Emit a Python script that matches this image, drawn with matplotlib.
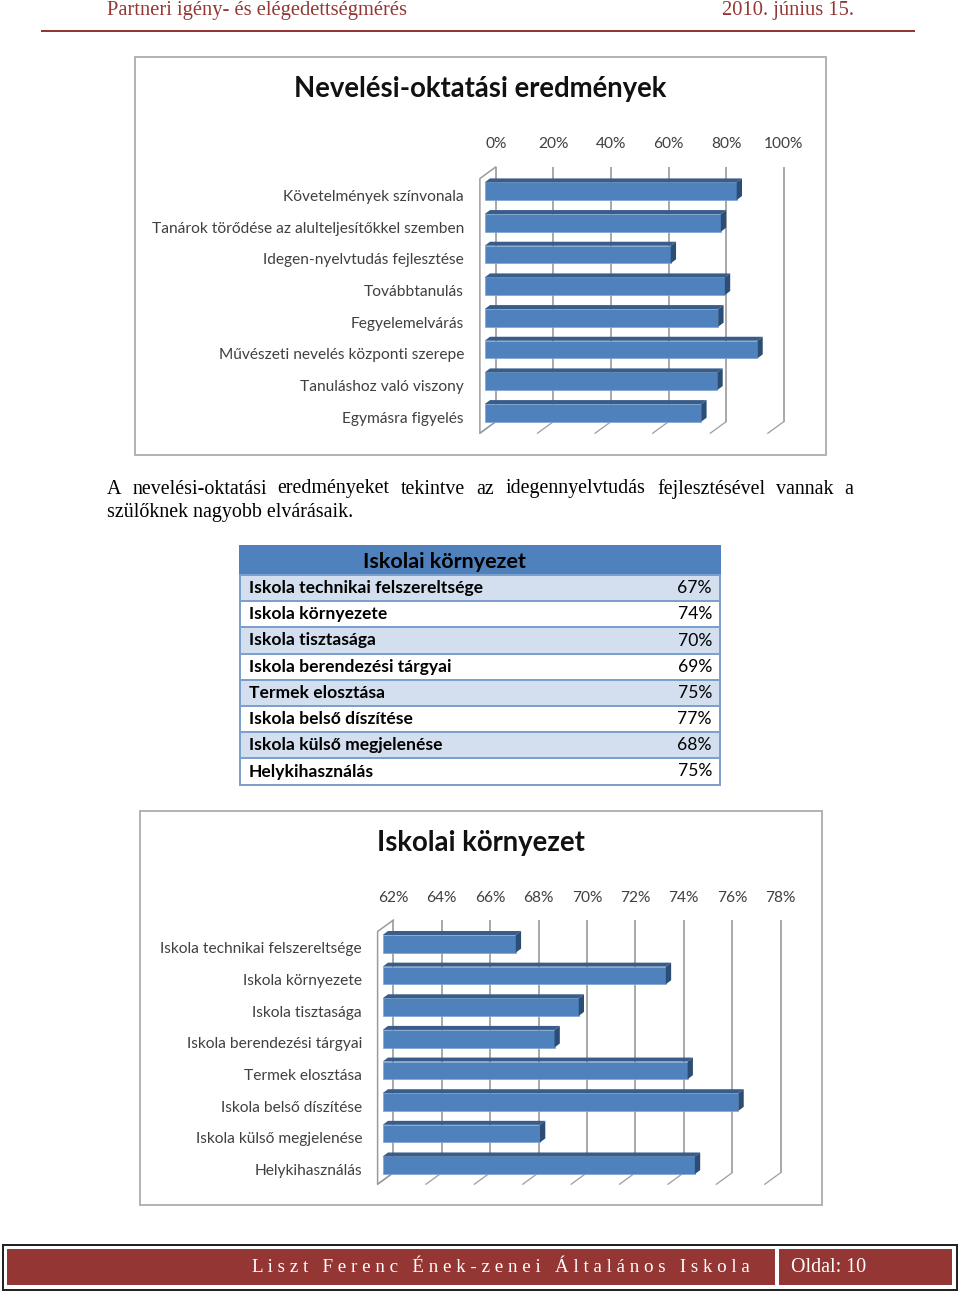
import numpy as np
import matplotlib
matplotlib.use("Agg")
import matplotlib.pyplot as plt
from matplotlib.patches import Rectangle, Polygon

header_left = "Partneri igény- és elégedettségmérés"
header_right = "2010. június 15."
chart1_title = "Nevelési-oktatási eredmények"
chart1_categories = ["Követelmények színvonala", "Tanárok törődése az alulteljesítőkkel szemben",
                     "Idegen-nyelvtudás fejlesztése", "Továbbtanulás", "Fegyelemelvárás",
                     "Művészeti nevelés központi szerepe", "Tanuláshoz való viszony", "Egymásra figyelés"]
chart1_values = [87.5, 82.0, 64.6, 83.4, 81.1, 94.7, 80.8, 75.2]
chart1_ticks = [0, 20, 40, 60, 80, 100]
para_line1 = ["A", "nevelési-oktatási", "eredményeket", "tekintve", "az", "idegennyelvtudás",
              "fejlesztésével", "vannak", "a"]
para_line2 = "szülőknek nagyobb elvárásaik."
table_title = "Iskolai környezet"
table_categories = ["Iskola technikai felszereltsége", "Iskola környezete", "Iskola tisztasága",
                    "Iskola berendezési tárgyai", "Termek elosztása", "Iskola belső díszítése",
                    "Iskola külső megjelenése", "Helykihasználás"]
table_values = [67, 74, 70, 69, 75, 77, 68, 75]
chart2_values = [67.5, 73.7, 70.1, 69.1, 74.6, 76.7, 68.5, 74.9]
chart2_ticks = [62, 64, 66, 68, 70, 72, 74, 76, 78]
footer_text = "L i s z t   F e r e n c   É n e k - z e n e i   Á l t a l á n o s   I s k o l a"
footer_page = "Oldal: 10"

W, H = 960, 1292
PX = 0.72
RED = "#943634"
SANS = "Lato"
SERIF = "Liberation Serif"
fig = plt.figure(figsize=(W / 100, H / 100), dpi=100, facecolor="white")
page = fig.add_axes([0, 0, 1, 1], zorder=0)
page.set_xlim(0, W)
page.set_ylim(H, 0)
page.axis("off")


def rect(x0, y0, x1, y1, fc="none", ec="none", lw=0, z=1):
    page.add_patch(Rectangle((x0, y0), x1 - x0, y1 - y0, facecolor=fc, edgecolor=ec,
                             linewidth=lw * PX, zorder=z))


def chart(frame, title, title_x, title_y, title_px, cats, vals, ticks, base,
          bar_x0, scale, row0, step, wall_x, wall_top, wall_bottom, depth_x, depth_y,
          label_x, tick_y, back_off):
    rect(*frame, fc="white", ec="#b4b4b4", lw=2)
    page.text(title_x, title_y, title, ha="center", va="center", fontsize=title_px * PX,
              family=SANS, fontweight="bold", color="#111111")
    ax_l, ax_r = wall_x - 2, frame[2] - 6
    ax_t, ax_b = wall_top - 3, wall_bottom + 16
    ax = fig.add_axes([ax_l / W, 1 - ax_b / H, (ax_r - ax_l) / W, (ax_b - ax_t) / H], zorder=2)
    ax.patch.set_alpha(0)
    to_x = lambda px: base + (px - bar_x0) / scale
    to_y = lambda px: (px - row0) / step
    ax.set_xlim(to_x(ax_l), to_x(ax_r))
    ax.set_ylim(to_y(ax_b), to_y(ax_t))
    for s in ax.spines.values():
        s.set_visible(False)
    dx, dy = depth_x / scale, depth_y / step
    off = back_off / scale
    sx, sy = -15.8 / scale, 11.5 / step
    yb, yt = to_y(wall_bottom), to_y(wall_top)
    grid = "#8f8f8f"
    for i, t in enumerate(ticks):
        ax.plot([t + off, t + off], [yt, yb], color=grid, lw=1.5 * PX, zorder=1, solid_capstyle="butt")
        ax.plot([t + off, t + off + sx], [yb, yb + sy], color="#a0a0a0", lw=1.3 * PX, zorder=1)
    w0 = ticks[0] + off
    ax.plot([w0, w0 + sx, w0 + sx, w0], [yt, yt + sy, yb + sy, yb], color="#9a9a9a",
            lw=1.5 * PX, zorder=1)
    y = np.arange(len(vals))
    h = 17.6 / step
    v = np.array(vals, dtype=float)
    ax.barh(y, v - base, left=base, height=h, color="#4f81bd", edgecolor="#7fa3d0",
            linewidth=0.5, zorder=3)
    for yi, vi in zip(y, v):
        top, bot = yi - h / 2, yi + h / 2
        ax.add_patch(Polygon([(base, top), (base + dx, top - dy), (vi + dx, top - dy), (vi, top)],
                             closed=True, fc="#385d8a", ec="none", zorder=3))
        ax.add_patch(Polygon([(vi, top), (vi + dx, top - dy), (vi + dx, bot - dy), (vi, bot)],
                             closed=True, fc="#2c4d75", ec="none", zorder=3))
    ax.xaxis.tick_top()
    ax.set_xticks(np.array(ticks) + off)
    ax.set_xticklabels([f"{t}%" for t in ticks], fontsize=15.5 * PX, family=SANS, color="#404040")
    ax.tick_params(axis="x", length=0, pad=(ax_t - tick_y - 9) * PX)
    ax.set_yticks(y + 4.2 / step)
    ax.set_yticklabels(cats, fontsize=15.5 * PX, family=SANS, color="#404040")
    ax.tick_params(axis="y", length=0, pad=(ax_l - label_x) * PX)
    return ax


# header
page.text(107, 11, header_left, ha="left", va="center", fontsize=20.5 * PX, family=SERIF, color=RED)
page.text(854, 11, header_right, ha="right", va="center", fontsize=20.5 * PX, family=SERIF, color=RED)
page.plot([41, 915], [31, 31], color=RED, lw=2 * PX, solid_capstyle="butt")

# chart 1
chart((135, 57, 826, 455), chart1_title, 480.5, 89, 27.5, chart1_categories, chart1_values,
      chart1_ticks, 0, 484.7, 2.88, 191.2, 31.67, 479.5, 167, 421.7, 5.3, 4, 464, 142, 11)

# paragraph
word_x = [107, 133, 277, 401, 476, 506, 657, 776, 844]
for wx, word in zip(word_x, para_line1):
    page.text(wx, 489, word, ha="left", va="center", fontsize=20 * PX, family=SERIF, color="black")
page.text(107, 512, para_line2, ha="left", va="center", fontsize=20 * PX, family=SERIF, color="black")

# table
rect(240, 546, 720, 575, fc="#4f81bd", ec="#4f81bd", lw=2, z=1)
page.text(444, 562, table_title, ha="center", va="center", fontsize=21.5 * PX, family=SANS,
          fontweight="bold", color="black", zorder=3)
row_h = 26.2
for i, (name, val) in enumerate(zip(table_categories, table_values)):
    top = 575 + i * row_h
    rect(240, top, 720, top + row_h, fc="#d3dfee" if i % 2 == 0 else "white", ec="#7ba0cd", lw=2, z=1)
    page.text(249, top + row_h / 2, name, ha="left", va="center", fontsize=17.5 * PX, family=SANS,
              fontweight="bold", color="black", zorder=3)
    page.text(712, top + row_h / 2, f"{val}%", ha="right", va="center", fontsize=17.5 * PX, family=SANS,
              color="black", zorder=3)

# chart 2
chart((140, 811, 822, 1205), table_title, 481, 843, 27.5, table_categories, chart2_values,
      chart2_ticks, 62, 382.7, 24.2, 943.8, 31.64, 377.7, 920, 1172.7, 5.3, 4, 362, 896, 10.7)

# footer
rect(3, 1245, 957, 1290, fc="white", ec="#222222", lw=2)
rect(7, 1249, 775, 1285, fc=RED)
rect(779, 1249, 952, 1285, fc=RED)
page.text(501, 1267, footer_text, ha="center", va="center", fontsize=19 * PX, family=SERIF, color="white")
page.text(791, 1268, footer_page, ha="left", va="center", fontsize=20 * PX, family=SERIF, color="white")

fig.savefig("out.png", dpi=100, facecolor="white")
